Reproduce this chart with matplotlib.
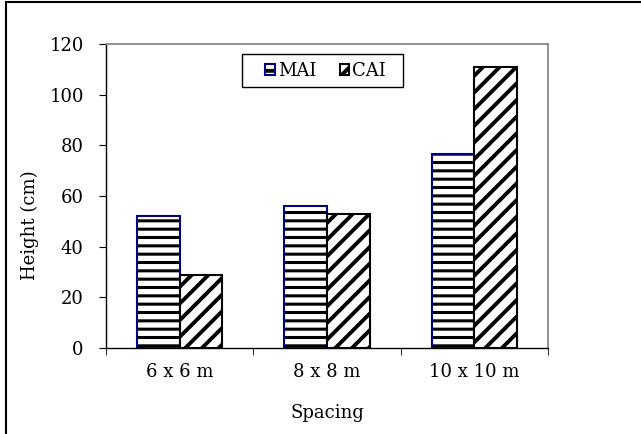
import matplotlib
matplotlib.use("Agg")
import matplotlib.pyplot as plt
import numpy as np
from matplotlib.patches import Rectangle

categories = ["6 x 6 m", "8 x 8 m", "10 x 10 m"]
mai = [52, 56, 76.5]
cai = [29, 53, 111]
yticks = [0, 20, 40, 60, 80, 100, 120]

plt.rcParams['font.family'] = ['DejaVu Serif']
plt.rcParams['hatch.color'] = 'black'

W, H = 641, 434
fig = plt.figure(figsize=(W/100, H/100), dpi=100)
ax = fig.add_axes([106/W, 86/H, 442/W, 304/H])

x = np.arange(len(categories))
w = 0.29
plt.rcParams['hatch.linewidth'] = 2.2
b1 = ax.bar(x - w/2, mai, w, facecolor='white', edgecolor='#000080', hatch='--', linewidth=1.5, label='MAI')
plt.rcParams['hatch.linewidth'] = 2.8
b2 = ax.bar(x + w/2, cai, w, facecolor='white', edgecolor='black', hatch='//', linewidth=1.5, label='CAI')
for p in b1:
    p._hatch_color = (0, 0, 0, 1)
    try:
        p.set_hatch_linewidth(2.2)
    except Exception:
        pass

ax.set_xlim(-0.5, 2.5)
ax.set_ylim(0, 120)
ax.set_yticks(yticks)
ax.set_xticks(x)
ax.set_xticklabels(categories)
ax.set_xticks([-0.5, 0.5, 1.5, 2.5], minor=True)
ax.tick_params(axis='x', which='major', length=0, pad=11, labelsize=13)
ax.tick_params(axis='x', which='minor', length=5, direction='out')
ax.tick_params(axis='y', length=5, direction='out', pad=11, labelsize=13)
for s in ['top', 'right']:
    ax.spines[s].set_color('#808080')
    ax.spines[s].set_linewidth(1.2)
for s in ['left', 'bottom']:
    ax.spines[s].set_color('black')
    ax.spines[s].set_linewidth(1.0)

ax.set_ylabel('Height (cm)', fontsize=13)
ax.yaxis.set_label_coords((30 - 106)/442, (348 - 225)/304)
ax.set_xlabel('Spacing', fontsize=13)
ax.xaxis.set_label_coords(0.5, (348 - 413)/304)
ax.xaxis.label.set_va('center')
ax.yaxis.label.set_va('center')

# legend frame and legend
fx0, fx1, fy0, fy1 = 242, 403, 54, 87
fig.patches.append(Rectangle((fx0/W, 1 - fy1/H), (fx1-fx0)/W, (fy1-fy0)/H,
                             transform=fig.transFigure, fill=True, facecolor='white',
                             edgecolor='black', linewidth=1.0, zorder=5))
leg = fig.legend(handles=[b1, b2], loc='center',
                 bbox_to_anchor=((fx0+fx1)/2/W + 3/W, 1 - (fy0+fy1)/2/H),
                 ncol=2, fontsize=13, frameon=False, handlelength=0.55,
                 handleheight=0.55, handletextpad=0.15, columnspacing=1.3,
                 borderpad=0.0, borderaxespad=0)
leg.set_zorder(6)
for h in leg.legend_handles:
    h.set_linewidth(1.5)

fig.patches.append(Rectangle((6/W, -0.1), 1.2, (432/H) + 0.1, transform=fig.transFigure,
                             fill=False, edgecolor='black', linewidth=1.5))

fig.savefig('out.png', dpi=100)
